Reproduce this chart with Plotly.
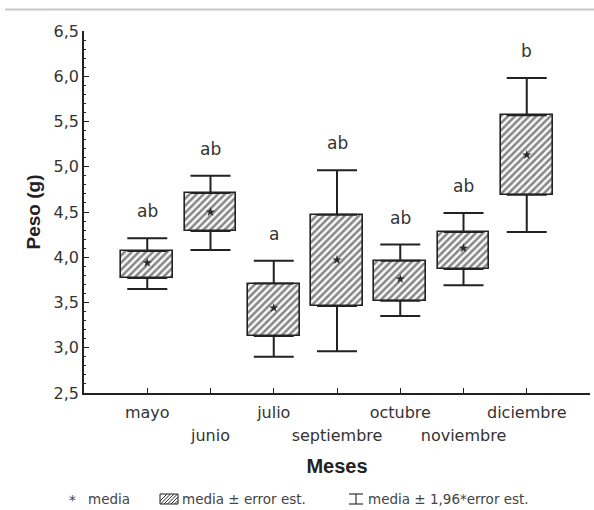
import plotly.graph_objects as go

# ---- data ----
months = ["mayo", "junio", "julio", "septiembre", "octubre", "noviembre", "diciembre"]
means = [3.94, 4.50, 3.44, 3.97, 3.76, 4.10, 5.13]
se_low = [3.77, 4.29, 3.13, 3.46, 3.52, 3.87, 4.69]    # media - error est.
se_high = [4.07, 4.71, 3.71, 4.47, 3.96, 4.28, 5.57]   # media + error est.
ci_low = [3.65, 4.08, 2.90, 2.96, 3.35, 3.69, 4.28]    # media - 1,96*error est.
ci_high = [4.21, 4.90, 3.96, 4.96, 4.14, 4.49, 5.98]   # media + 1,96*error est.
groups = ["ab", "ab", "a", "ab", "ab", "ab", "b"]
y_ticks = [2.5, 3.0, 3.5, 4.0, 4.5, 5.0, 5.5, 6.0, 6.5]

idx = list(range(len(months)))

# ---- layout constants ----
W, H = 594, 510
ML, MR, MT, MB = 84, 4, 31, 117
PW, PH = W - ML - MR, H - MT - MB
def px_x(p):
    return (p - ML) / PW
def px_y(p):
    return (H - MB - p) / PH

DARK = "#222222"
TXT = "#333333"
TICKFONT = dict(family="DejaVu Sans", size=16, color=TXT)

fig = go.Figure()

# boxes (media ± error est.)
fig.add_trace(go.Bar(
    x=idx,
    y=[h - l for h, l in zip(se_high, se_low)],
    base=se_low,
    width=0.82,
    marker=dict(
        color="#ffffff",
        line=dict(color=DARK, width=1.6),
        pattern=dict(shape="/", fgcolor="#111111", bgcolor="#fafafa", size=5, solidity=0.5),
    ),
    showlegend=False, hoverinfo="skip",
))

# upper whiskers
fig.add_trace(go.Scatter(
    x=idx, y=se_high, mode="markers",
    marker=dict(size=1, color="rgba(0,0,0,0)"),
    error_y=dict(type="data", symmetric=False,
                 array=[c - s for c, s in zip(ci_high, se_high)],
                 arrayminus=[0] * len(idx),
                 width=20, thickness=2, color=DARK),
    showlegend=False, hoverinfo="skip",
))
# lower whiskers
fig.add_trace(go.Scatter(
    x=idx, y=se_low, mode="markers",
    marker=dict(size=1, color="rgba(0,0,0,0)"),
    error_y=dict(type="data", symmetric=False,
                 array=[0] * len(idx),
                 arrayminus=[s - c for s, c in zip(se_low, ci_low)],
                 width=20, thickness=2, color=DARK),
    showlegend=False, hoverinfo="skip",
))

# means (on overlaying axis x2 so that it exists)
fig.add_trace(go.Scatter(
    x=idx, y=means, mode="markers", xaxis="x2",
    marker=dict(symbol="star", size=7, color="#2a2a2a"),
    showlegend=False, hoverinfo="skip",
))

# significance letters
for i, g, top in zip(idx, groups, ci_high):
    fig.add_annotation(x=i, y=top, text=g, showarrow=False, yanchor="bottom",
                       yshift=15, font=dict(family="DejaVu Sans", size=17, color=TXT))

# two-row tick labels
row1_vals = list(range(len(months) + 1))
row1_text = [m if i % 2 == 0 else "" for i, m in enumerate(months)] + [""]
row2_vals = [i for i in idx if i % 2 == 1]
row2_text = [months[i] for i in row2_vals]

fig.update_layout(
    width=W, height=H,
    margin=dict(l=ML, r=MR, t=MT, b=MB, pad=0),
    paper_bgcolor="white", plot_bgcolor="white",
    separators=",.",
    bargap=0,
    xaxis=dict(
        range=[-1, 7], tickmode="array", tickvals=row1_vals, ticktext=row1_text,
        ticks="inside", ticklen=5, tickwidth=1, tickcolor=DARK,
        showline=True, linecolor=DARK, linewidth=1.5,
        showgrid=False, zeroline=False, tickfont=TICKFONT,
        ticklabelstandoff=4, automargin=False,
        title=dict(text="<b>Meses</b>", standoff=38,
                   font=dict(family="Liberation Sans", size=20, color="#222")),
    ),
    xaxis2=dict(
        range=[-1, 7], overlaying="x", anchor="y", side="bottom",
        tickmode="array", tickvals=row2_vals, ticktext=row2_text,
        ticks="", showline=False, showgrid=False, zeroline=False,
        tickfont=TICKFONT, ticklabelstandoff=31, automargin=False,
    ),
    yaxis=dict(
        range=[2.5, 6.5], tickmode="array", tickvals=y_ticks, tickformat=".1f",
        ticks="inside", ticklen=5, tickwidth=1, tickcolor=DARK,
        minor=dict(dtick=0.1, tick0=2.5, ticks="inside", ticklen=2.5, tickcolor=DARK),
        showline=True, linecolor=DARK, linewidth=1.5,
        showgrid=False, zeroline=False, tickfont=TICKFONT, automargin=False,
        title=dict(text="<b>Peso (g)</b>", standoff=8,
                   font=dict(family="Liberation Sans", size=19, color="#222")),
    ),
)

# top grey rule
fig.add_shape(type="line", xref="paper", yref="paper",
              x0=px_x(5), x1=px_x(594), y0=px_y(9.5), y1=px_y(9.5),
              line=dict(color="#c8c8c8", width=2))

# ---- manual legend ----
LEG_Y = 499
LEGFONT = dict(family="DejaVu Sans", size=13.5, color="#444")
fig.add_annotation(xref="paper", yref="paper", x=px_x(72), y=px_y(LEG_Y + 1), text="*",
                   showarrow=False, xanchor="center", yanchor="middle", font=LEGFONT)
fig.add_annotation(xref="paper", yref="paper", x=px_x(86), y=px_y(LEG_Y), text="media",
                   showarrow=False, xanchor="left", yanchor="middle", font=LEGFONT)
# hatched swatch
sx0, sx1, sy0, sy1 = 160, 178, 494, 504
fig.add_shape(type="rect", xref="paper", yref="paper",
              x0=px_x(sx0), x1=px_x(sx1), y0=px_y(sy1), y1=px_y(sy0),
              line=dict(color=DARK, width=1), fillcolor="#fafafa")
for k in range(6):
    a = sx0 + 1 + k * 3.5
    x_start, x_end = a - 4, a + 6
    ys, ye = sy1, sy0
    if x_start < sx0:
        ys = sy1 - (sx0 - x_start)
        x_start = sx0
    if x_end > sx1:
        ye = sy0 + (x_end - sx1)
        x_end = sx1
    fig.add_shape(type="line", xref="paper", yref="paper",
                  x0=px_x(x_start), x1=px_x(x_end), y0=px_y(ys), y1=px_y(ye),
                  line=dict(color="#2e2e2e", width=1))
fig.add_annotation(xref="paper", yref="paper", x=px_x(180), y=px_y(LEG_Y), text="media ± error est.",
                   showarrow=False, xanchor="left", yanchor="middle", font=LEGFONT)
# I-beam
bx0, bx1, by0, by1 = 349, 363, 494, 504
bxc = (bx0 + bx1) / 2
for (xa, ya, xb, yb) in [(bx0, by0, bx1, by0), (bx0, by1, bx1, by1), (bxc, by0, bxc, by1)]:
    fig.add_shape(type="line", xref="paper", yref="paper",
                  x0=px_x(xa), x1=px_x(xb), y0=px_y(ya), y1=px_y(yb),
                  line=dict(color="#333", width=1.2))
fig.add_annotation(xref="paper", yref="paper", x=px_x(366), y=px_y(LEG_Y), text="media ± 1,96*error est.",
                   showarrow=False, xanchor="left", yanchor="middle", font=LEGFONT)

fig.write_html("out.html")
